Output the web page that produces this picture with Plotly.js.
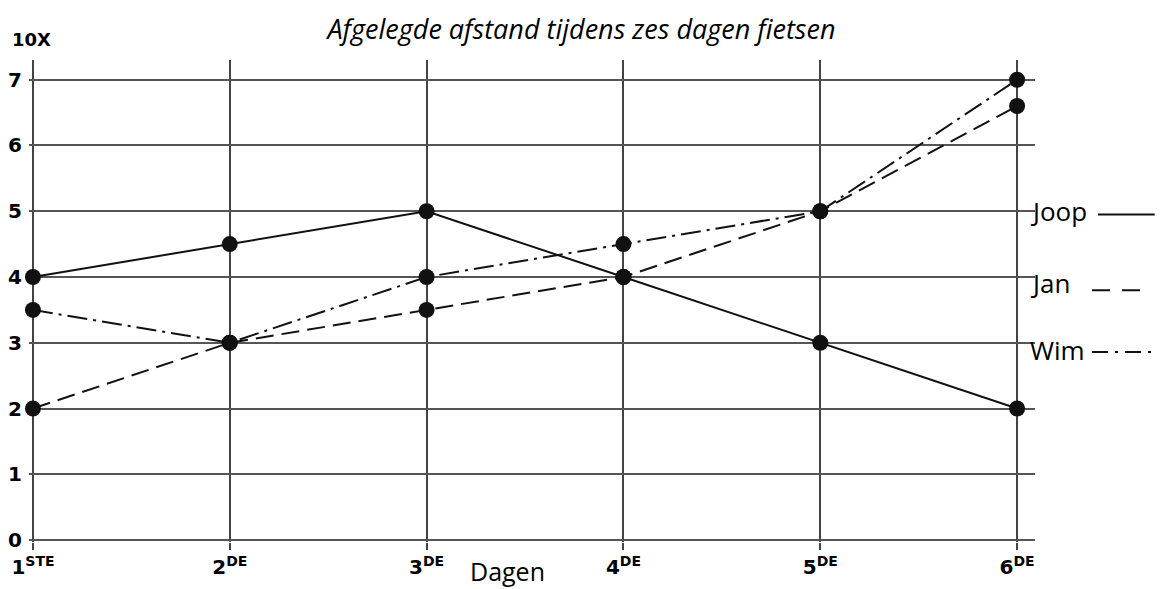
<!DOCTYPE html>
<html>
<head>
<meta charset="utf-8">
<script src="https://cdn.plot.ly/plotly-3.0.1.min.js"></script>
<style>html,body{margin:0;padding:0;background:#fff;}#chart{width:1163px;height:589px;}</style>
</head>
<body>
<div id="chart"></div>
<script>
const days = [1, 2, 3, 4, 5, 6];
const dayLabels = ['<b>1<sup>STE</sup></b>', '<b>2<sup>DE</sup></b>', '<b>3<sup>DE</sup></b>', '<b>4<sup>DE</sup></b>', '<b>5<sup>DE</sup></b>', '<b>6<sup>DE</sup></b>'];
const joop = [4, 4.5, 5, 4, 3, 2];
const jan = [2, 3, 3.5, 4, 5, 6.6];
const wim = [3.5, 3, 4, 4.5, 5, 7];
const seriesNames = ['Joop', 'Jan', 'Wim'];
const yTicks = [0, 1, 2, 3, 4, 5, 6, 7];
const yTickText = ['<b>0</b>', '<b>1</b>', '<b>2</b>', '<b>3</b>', '<b>4</b>', '<b>5</b>', '<b>6</b>', '<b>7</b>'];

const hand = 'DejaVu Sans, sans-serif';
const ink = '#111';
const dashList = ['solid', '18px,8px', '20px,6px,3px,6px'];

function series(name, y, dash) {
  return {
    x: days, y: y, name: name, type: 'scatter', mode: 'lines+markers',
    line: {color: ink, width: 2, dash: dash},
    marker: {color: ink, size: 16},
    showlegend: false, cliponaxis: false
  };
}

const data = [
  series(seriesNames[0], joop, dashList[0]),
  series(seriesNames[1], jan, dashList[1]),
  series(seriesNames[2], wim, dashList[2])
];

const legendTextY = [5, 3.91, 2.89];
const annotations = seriesNames.map((n, i) => ({
  text: n, xref: 'paper', yref: 'y', x: 0.993, y: legendTextY[i],
  xanchor: 'left', yanchor: 'middle', showarrow: false,
  font: {family: 'Open Sans, sans-serif', size: 26, color: '#000'}
}));
annotations.push({
  text: 'Dagen', xref: 'paper', yref: 'paper', x: 0.476, y: -0.06,
  xanchor: 'center', yanchor: 'middle', showarrow: false,
  font: {family: 'Open Sans, sans-serif', size: 25, color: '#000'}
});
annotations.push({
  text: '<b>10X</b>', xref: 'paper', yref: 'paper', x: -0.019, y: 1.0415,
  xanchor: 'left', yanchor: 'middle', showarrow: false,
  font: {family: hand, size: 18, color: '#000'}
});

const shapes = [
  {type: 'line', xref: 'paper', yref: 'y', x0: 1.0626, x1: 1.119, y0: 4.95, y1: 4.95, line: {color: ink, width: 2, dash: 'solid'}},
  {type: 'line', xref: 'paper', yref: 'y', x0: 1.0567, x1: 1.111, y0: 3.80, y1: 3.80, line: {color: ink, width: 2, dash: '18px,12px'}},
  {type: 'line', xref: 'paper', yref: 'y', x0: 1.0567, x1: 1.119, y0: 2.86, y1: 2.86, line: {color: ink, width: 2, dash: '16px,7px,3px,7px'}}
];

const layout = {
  width: 1163, height: 589,
  margin: {l: 29, r: 128, t: 60, b: 47},
  paper_bgcolor: '#fff', plot_bgcolor: '#fff',
  title: {
    text: '<i>Afgelegde afstand tijdens zes dagen fietsen</i>',
    x: 0.5, xref: 'container', y: 0.95, yanchor: 'middle',
    font: {family: 'Open Sans, sans-serif', size: 27, color: '#000'}
  },
  xaxis: {
    range: [0.98, 6.091], tickvals: days, ticktext: dayLabels,
    showgrid: true, gridcolor: '#444', gridwidth: 2,
    zeroline: false, showline: false,
    ticks: 'outside', ticklen: 7, tickcolor: '#444', tickwidth: 2,
    tickfont: {family: hand, size: 20, color: '#000'}
  },
  yaxis: {
    range: [-0.03, 7.3], tickvals: yTicks, ticktext: yTickText,
    showgrid: true, gridcolor: '#555', gridwidth: 2,
    zeroline: false, showline: false,
    ticks: '', ticklabelstandoff: 6,
    tickfont: {family: hand, size: 20, color: '#000'}
  },
  annotations: annotations,
  shapes: shapes
};

Plotly.newPlot('chart', data, layout, {displayModeBar: false, staticPlot: true});
</script>
</body>
</html>
